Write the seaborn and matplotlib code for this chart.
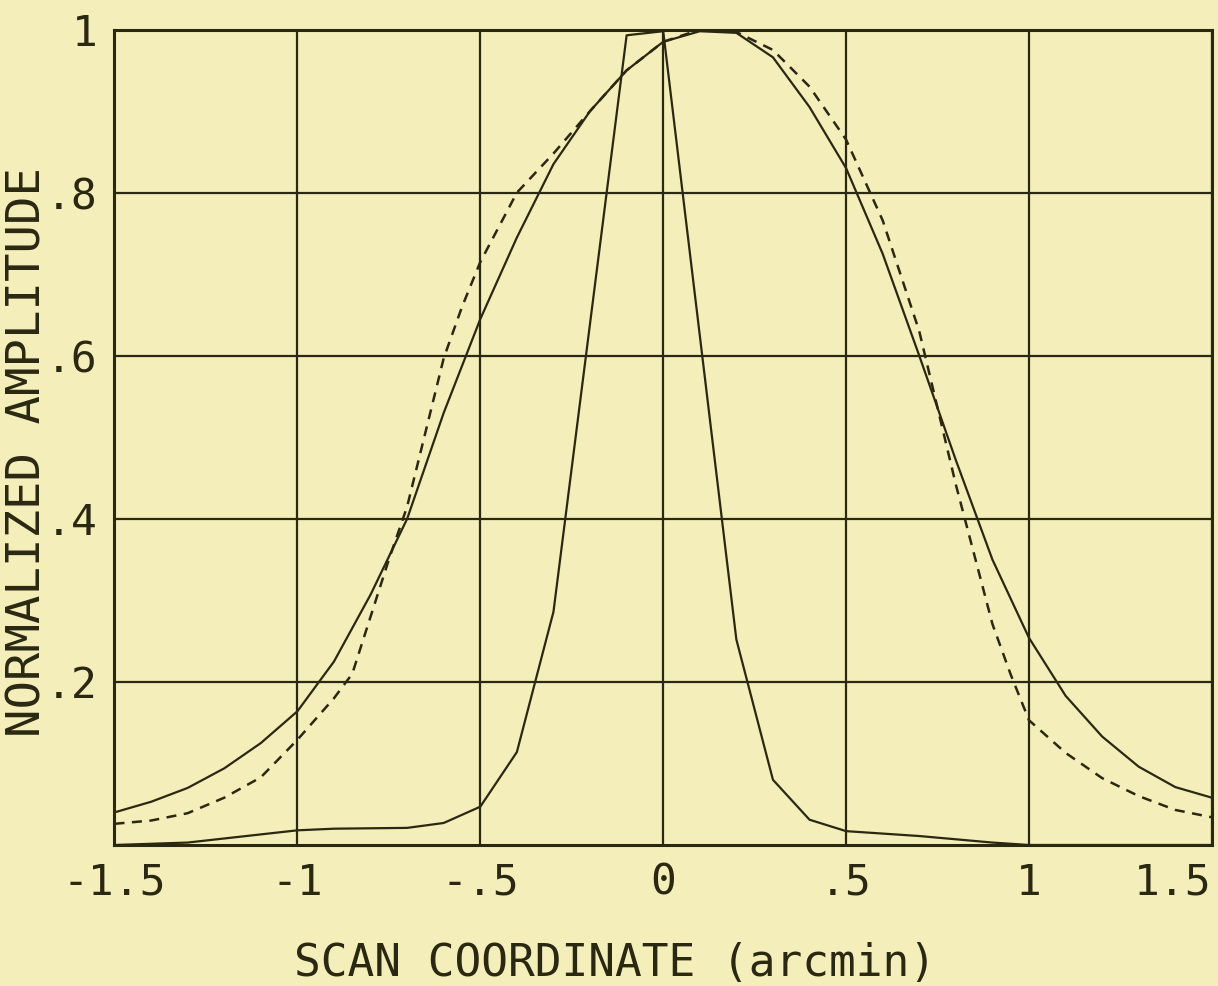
import numpy as np
import pandas as pd
import matplotlib
matplotlib.use("Agg")
import matplotlib.pyplot as plt
import seaborn as sns

sns.set_theme(style="white")
plt.rcParams['font.family'] = ['DejaVu Sans Mono', 'DejaVu Sans']

# narrow solid response
x_narrow = [-1.5, -1.3, -1.0, -0.9, -0.7, -0.6, -0.5, -0.4, -0.3, -0.1,
            0.0, 0.2, 0.3, 0.4, 0.5, 0.6, 0.7, 0.9, 1.0, 1.5]
y_narrow = [0.0, 0.003, 0.018, 0.020, 0.021, 0.027, 0.047, 0.114, 0.286, 0.993,
            0.998, 0.252, 0.080, 0.031, 0.017, 0.014, 0.011, 0.003, 0.0, 0.0]

# wide solid response
x_wide = [-1.5, -1.4, -1.3, -1.2, -1.1, -1.0, -0.9, -0.8, -0.7, -0.6, -0.5,
          -0.4, -0.3, -0.2, -0.1, 0.0, 0.1, 0.2, 0.3, 0.4, 0.5,
          0.6, 0.7, 0.8, 0.9, 1.0, 1.1, 1.2, 1.3, 1.4, 1.5]
y_wide = [0.040, 0.053, 0.070, 0.094, 0.125, 0.164, 0.225, 0.307, 0.400, 0.530, 0.645,
          0.745, 0.835, 0.900, 0.950, 0.985, 0.998, 0.996, 0.966, 0.905, 0.830,
          0.725, 0.600, 0.472, 0.350, 0.254, 0.183, 0.133, 0.096, 0.071, 0.058]

# dashed response
x_dash = [-1.5, -1.4, -1.3, -1.2, -1.1, -1.0, -0.9, -0.85, -0.75, -0.7, -0.6, -0.55, -0.5,
          -0.4, -0.3, -0.2, -0.1, 0.0, 0.1, 0.2, 0.3, 0.4, 0.5,
          0.6, 0.7, 0.8, 0.9, 0.95, 1.0, 1.1, 1.2, 1.3, 1.4, 1.5]
y_dash = [0.026, 0.030, 0.039, 0.058, 0.083, 0.129, 0.180, 0.210, 0.350, 0.415, 0.597, 0.660, 0.715,
          0.800, 0.848, 0.900, 0.950, 0.985, 1.000, 0.997, 0.975, 0.930, 0.865,
          0.766, 0.630, 0.442, 0.271, 0.209, 0.153, 0.113, 0.082, 0.060, 0.043, 0.034]

x_ticks = [-1.5, -1, -0.5, 0, 0.5, 1, 1.5]
x_labels = ["-1.5", "-1", "-.5", "0", ".5", "1", "1.5"]
y_ticks = [0.2, 0.4, 0.6, 0.8, 1.0]
y_labels = [".2", ".4", ".6", ".8", "1"]

bg = "#f4eebb"
ink = "#2b2812"

fig = plt.figure(figsize=(12.18, 9.86), dpi=100, facecolor=bg)
ax = fig.add_axes([0.094, 0.143, 0.901, 0.827])
ax.set_facecolor(bg)

sns.lineplot(x=x_narrow, y=y_narrow, ax=ax, color=ink, lw=1.6, sort=False)
sns.lineplot(x=x_wide, y=y_wide, ax=ax, color=ink, lw=1.6, sort=False)
sns.lineplot(x=x_dash, y=y_dash, ax=ax, color=ink, lw=1.8, sort=False,
             linestyle=(0, (4, 3)))

ax.set_xlim(-1.5, 1.5)
ax.set_ylim(0, 1)
ax.set_xticks(x_ticks)
ax.set_xticklabels(x_labels)
ax.set_yticks(y_ticks)
ax.set_yticklabels(y_labels)
ax.tick_params(length=0, labelsize=31, colors=ink)
ax.tick_params(axis="x", pad=12)
ax.tick_params(axis="y", pad=12)
ax.get_xticklabels()[-1].set_ha("right")
ax.grid(True, color=ink, lw=1.6)
for s in ax.spines.values():
    s.set_color(ink)
    s.set_linewidth(2.2)

fig.text(615 / 1218, 1 - 963 / 986, "SCAN COORDINATE (arcmin)",
         ha="center", va="center", fontsize=32, color=ink)
fig.text(28 / 1218, 1 - 452 / 986, "NORMALIZED AMPLITUDE", rotation=90,
         ha="center", va="center", fontsize=34, color=ink)

fig.savefig("out.png", dpi=100, facecolor=bg)
